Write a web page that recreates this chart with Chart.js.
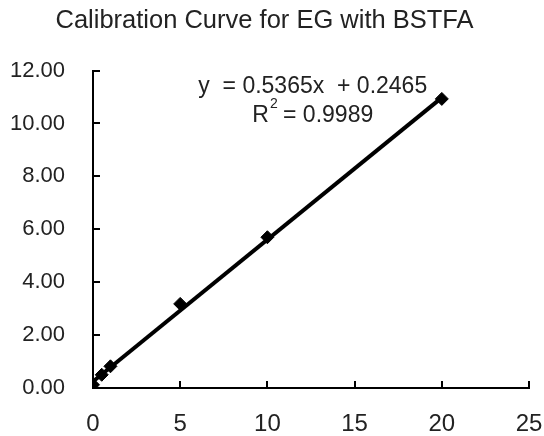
<!DOCTYPE html>
<html>
<head>
<meta charset="utf-8">
<script src="https://cdn.jsdelivr.net/npm/chart.js@4.4.1/dist/chart.umd.min.js"></script>
<style>
  html, body { margin: 0; padding: 0; background: #fff; }
  #wrap { width: 544px; height: 436px; }
</style>
</head>
<body>
<div id="wrap"><canvas id="graph-canvas"></canvas></div>
<script>
// calibration points
const conc = [0, 0.5, 1, 5, 10, 20];
const area = [0.12, 0.5, 0.82, 3.18, 5.7, 10.93];
const xTicks = [0, 5, 10, 15, 20, 25];
const yTicks = [0, 2, 4, 6, 8, 10, 12];
const slope = 0.5365;
const intercept = 0.2465;
const trendX = [0, 20];
const eqText = 'y  = 0.5365x  + 0.2465';
const r2Text = ' = 0.9989';

const FONT = "'Liberation Sans', Arial, sans-serif";

// tick marks pointing into the plot + the trendline label
const innerTicks = {
  id: 'innerTicks',
  afterDraw(chart) {
    const ctx = chart.ctx;
    const xs = chart.scales.x, ys = chart.scales.y;
    const area = chart.chartArea;
    ctx.save();
    ctx.strokeStyle = '#000';
    ctx.lineWidth = 2;
    ctx.beginPath();
    xTicks.forEach(v => {
      const px = Math.round(xs.getPixelForValue(v));
      ctx.moveTo(px, area.bottom);
      ctx.lineTo(px, area.bottom - 7);
    });
    yTicks.forEach(v => {
      const py = Math.round(ys.getPixelForValue(v));
      ctx.moveTo(area.left, py);
      ctx.lineTo(area.left + 7, py);
    });
    ctx.stroke();

    ctx.fillStyle = '#222';
    ctx.font = '23px ' + FONT;
    ctx.textAlign = 'center';
    ctx.textBaseline = 'middle';
    const cx = xs.getPixelForValue(12.6);
    ctx.fillText(eqText, cx, ys.getPixelForValue(11.4));

    // R² line, built from pieces
    const r2y = ys.getPixelForValue(10.3);
    const wR = ctx.measureText('R').width;
    const wRest = ctx.measureText(r2Text).width;
    ctx.font = '14px ' + FONT;
    const w2 = ctx.measureText('2').width;
    let x0 = cx - (wR + w2 + wRest) / 2;
    ctx.textAlign = 'left';
    ctx.font = '23px ' + FONT;
    ctx.fillText('R', x0, r2y);
    ctx.font = '14px ' + FONT;
    ctx.fillText('2', x0 + wR + 1, r2y - 11);
    ctx.font = '23px ' + FONT;
    ctx.fillText(r2Text, x0 + wR + w2, r2y);
    ctx.restore();
  }
};

new Chart(document.getElementById('graph-canvas'), {
  type: 'scatter',
  data: {
    datasets: [{
      label: 'Points',
      data: conc.map((c, i) => ({ x: c, y: area[i] })),
      pointStyle: 'rectRot',
      pointRadius: 6.5,
      backgroundColor: '#000',
      borderColor: '#000',
      order: 1
    }, {
      label: 'Linear',
      type: 'line',
      data: trendX.map(x => ({ x: x, y: slope * x + intercept })),
      borderColor: '#000',
      borderWidth: 4,
      pointRadius: 0,
      order: 2
    }]
  },
  options: {
    responsive: true,
    maintainAspectRatio: false,
    animation: false,
    layout: { padding: { left: 0, right: 15, top: 0, bottom: 0 } },
    plugins: {
      legend: { display: false },
      tooltip: { enabled: false },
      title: {
        display: true,
        text: 'Calibration Curve for EG with BSTFA',
        color: '#222',
        font: { family: FONT, size: 25.5, weight: 'normal' },
        padding: { top: 6, bottom: 34 }
      }
    },
    scales: {
      x: {
        type: 'linear',
        min: 0, max: 25,
        afterBuildTicks: s => { s.ticks = xTicks.map(v => ({ value: v })); },
        afterFit: s => { s.height = 48; s.paddingLeft = 0; s.paddingRight = 0; },
        grid: { display: false, drawTicks: false },
        border: { display: true, color: '#000', width: 2 },
        ticks: { color: '#222', padding: 22, maxRotation: 0, font: { family: FONT, size: 24 } }
      },
      y: {
        type: 'linear',
        min: 0, max: 12,
        afterBuildTicks: s => { s.ticks = yTicks.map(v => ({ value: v })); },
        afterFit: s => { s.width = 93; s.paddingTop = 0; s.paddingBottom = 0; },
        grid: { display: false, drawTicks: false },
        border: { display: true, color: '#000', width: 2 },
        ticks: {
          color: '#222', padding: 28,
          font: { family: FONT, size: 22 },
          callback: v => v.toFixed(2)
        }
      }
    }
  },
  plugins: [innerTicks]
});
</script>
</body>
</html>
